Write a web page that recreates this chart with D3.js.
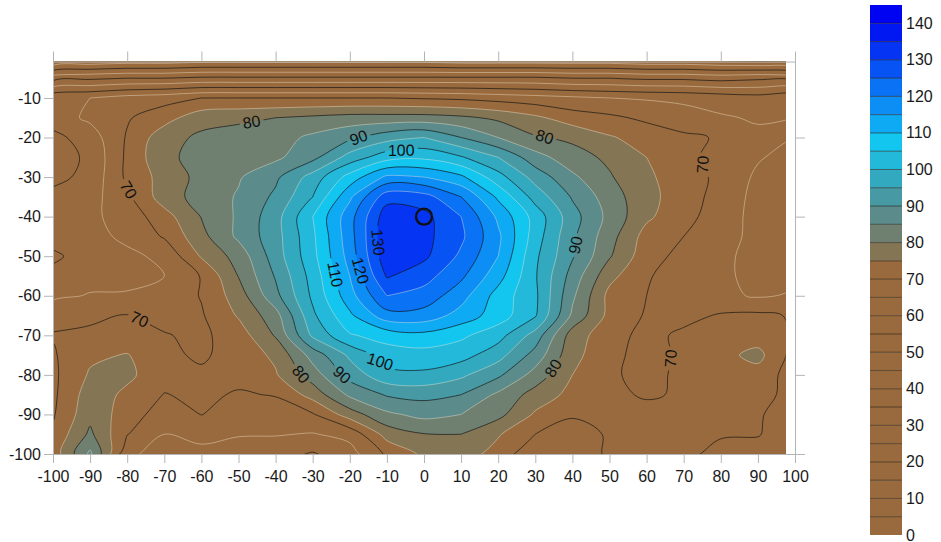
<!DOCTYPE html>
<html>
<head>
<meta charset="utf-8">
<script src="https://cdn.jsdelivr.net/npm/d3@7"></script>
<style>
  body { margin: 0; background: #fff; }
  svg { display: block; font-family: "Liberation Sans", Arial, sans-serif; }
</style>
</head>
<body>
<svg id="chart" width="941" height="542"></svg>
<script>
// grid nodes (x every 10, y every 5)
const gridX = [-100, -90, -80, -70, -60, -50, -40, -30, -20, -10, 0, 10, 20, 30, 40, 50, 60, 70, 80, 90, 100];
const gridY = [0, -5, -10, -15, -20, -25, -30, -35, -40, -45, -50, -55, -60, -65, -70, -75, -80, -85, -90, -95, -100];

// values, one column per gridX entry, top (y=0) to bottom (y=-100)
const zCols = [
  [28, 48, 64, 62.5, 58.5, 57.5, 58.5, 61.5, 63, 62, 59, 61.5, 64, 68.5, 70.3, 69.5, 69, 69, 69.5, 71, 72],          // -100
  [29, 49, 65, 66, 62.5, 61, 61.5, 63, 64, 63.5, 62.5, 63.5, 65.3, 69.5, 70.5, 74, 75.6, 77.5, 78.5, 81, 86],       // -90
  [30, 50, 67, 69.5, 70.5, 71, 71, 69, 67, 66, 64, 63.5, 65.5, 70.2, 71.5, 75.3, 76, 74, 72.5, 70.2, 66],           // -80
  [30, 50, 68, 73, 78, 79, 77, 77.5, 73, 70.5, 66, 65, 66.5, 68.5, 70.3, 71, 72, 69.8, 67.5, 65, 63],              // -70
  [31, 51, 70, 78, 81, 81.5, 81.5, 82, 80.2, 78.5, 75.5, 70.3, 70.3, 69.5, 69, 69.3, 70.8, 71, 70.1, 66, 64],       // -60
  [31, 51, 70, 79, 82, 82.5, 84.5, 85.5, 85.8, 86, 82, 80.2, 77.5, 75.5, 72.5, 72, 71.5, 69.5, 68, 65.3, 63],       // -50
  [31, 51, 70, 80, 83, 84, 89, 91, 93, 93, 92.5, 90.5, 88.5, 83, 80.5, 76, 74.5, 70.3, 67.5, 65.3, 62],            // -40
  [31, 51, 70, 81, 86, 88.5, 97, 100, 105, 104, 103.5, 102, 101, 99, 96, 87, 82.5, 77, 69.5, 64.7, 59.5],          // -30
  [31, 51, 70, 82, 89, 97, 107, 114, 118, 118, 117, 115, 113, 109, 104.5, 96, 92, 86, 77.5, 66.5, 63],             // -20
  [31, 51, 70, 82, 93, 103, 116, 128, 133, 134, 133.5, 130.5, 125, 118, 107, 102.5, 98.5, 90.5, 84, 77, 70.8],     // -10
  [31, 51, 69.5, 82, 95, 104, 115, 127, 131.5, 131.5, 131, 127, 123, 118, 108.5, 103, 99, 91.5, 86.5, 79.8, 76],   // 0
  [30, 51, 69, 81, 90, 100.5, 111, 120, 125, 126, 124, 121, 117, 113, 106, 102, 96, 90, 85, 80, 77.5],             // 10
  [30, 51, 68, 79, 85, 95, 102, 109, 114, 116, 115, 112, 108, 107.5, 102, 97, 91, 84, 81.5, 75.5, 73],             // 20
  [30, 51, 67, 76, 80.5, 87, 93, 98, 103, 102.5, 101, 100.5, 101, 100.5, 93, 88, 83, 78, 74.3, 70, 66],            // 30
  [30, 50, 66, 72.5, 79, 82, 86, 89.5, 92, 91, 90.5, 88, 86, 84, 77.5, 76.5, 75, 73.5, 70.5, 68, 66],              // 40
  [30, 50, 65, 71, 75.5, 79, 80.5, 82.5, 83.5, 82, 80.5, 76.5, 73.5, 73.5, 72, 71.5, 71, 71, 71.5, 70.5, 71],      // 50
  [29, 49, 64.5, 69, 73, 75, 76, 76.5, 76, 73, 72, 70.5, 70, 69.5, 68.5, 68, 68, 69.5, 71.5, 71, 70.8],            // 60
  [29, 49, 64, 67, 71, 71.5, 72, 72.5, 71.3, 70, 68.5, 67.5, 67.5, 68.5, 71, 71, 71.5, 70.5, 71, 71, 70.8],        // 70
  [28, 48, 63, 65.5, 69.5, 68, 69, 68, 68, 67, 66, 66, 66, 70.5, 72, 73.5, 73, 72, 70.5, 70.3, 69],                // 80
  [27, 49, 62, 64.5, 66, 65.5, 64, 63.5, 63, 63.5, 63.5, 63.5, 64.5, 71, 72.5, 76.5, 73, 72, 70.5, 70.3, 68],      // 90
  [25, 48, 64, 65, 65, 63, 63, 64, 64, 64, 64, 63.5, 65.5, 69.5, 69.5, 68, 67.5, 68, 67.5, 67, 67]                 // 100
];

const levels = [0, 5, 10, 15, 20, 25, 30, 35, 40, 45, 50, 55, 60, 65, 70, 75, 80, 85, 90, 95, 100, 105, 110, 115, 120, 125, 130, 135, 140];
const blueLevels = [75, 80, 85, 90, 95, 100, 105, 110, 115, 120, 125, 130, 135, 140];
const blueColors = ["#847655", "#6f7f70", "#5b8b8a", "#479aa4", "#33a9bf", "#22b9da", "#12c6ef", "#0eaaf4", "#0c8ef4", "#0a72f4", "#0853f4", "#0534f3", "#0218f2", "#0003f2"];
const brown = "#986a3d";

const xTicks = [-100, -90, -80, -70, -60, -50, -40, -30, -20, -10, 0, 10, 20, 30, 40, 50, 60, 70, 80, 90, 100];
const yTicks = [-10, -20, -30, -40, -50, -60, -70, -80, -90, -100];
const topTicks = [-100, -80, -60, -40, -20, 0, 20, 40, 60, 80, 100];
const rightTicks = [-20, -40, -60, -80, -100];
const barTicks = [0, 10, 20, 30, 40, 50, 60, 70, 80, 90, 100, 110, 120, 130, 140];

// contour labels: value and where it sits on the map
const labelV = [70, 80, 90, 100, 80, 70, 90, 130, 120, 110, 70, 80, 90, 100, 80, 70];
const labelX = [-79.8, -46.1, -17.8, -6.2, 32.6, 77.9, 41, -14, -18.6, -24.5, -76.5, -32.6, -22.6, -11.9, 34.8, 65.5];
const labelY = [-33.3, -18.1, -19.4, -22.4, -19.4, -25.7, -47.2, -46.6, -54, -54.7, -65.6, -79.5, -80.5, -76.7, -78.3, -75.7];

const markX = [0];
const markY = [-40];

const dataRight = 97.5, dataTop = -0.8;

const x = d3.scaleLinear().domain([-100, 100]).range([53, 795]);
const y = d3.scaleLinear().domain([-100, 0]).range([454, 58.4]);
const cb = d3.scaleLinear().domain([0, 145]).range([535, 5]);

const colorOf = v => v < 75 ? brown : blueColors[blueLevels.indexOf(v)];

const nx = gridX.length, ny = gridY.length;
const flat = new Array(nx * ny);
for (let j = 0; j < ny; j++) {
  for (let i = 0; i < nx; i++) flat[j * nx + i] = zCols[i][j];
}
const contours = d3.contours().size([nx, ny]).thresholds(levels)(flat);

// contour grid coords -> pixels (value i sits at i + 0.5)
const stepX = gridX[1] - gridX[0], stepY = gridY[1] - gridY[0];
const gx = c => x(gridX[0] + (c - 0.5) * stepX);
const gy = c => y(gridY[0] + (c - 0.5) * stepY);

const ringLine = d3.line().curve(d3.curveCatmullRomClosed.alpha(0.5));
function smoothPath(d) {
  return d.coordinates.map(poly =>
    poly.map(ring => ringLine(ring.slice(0, -1).map(p => [gx(p[0]), gy(p[1])])) || "").join("")
  ).join("");
}

const svg = d3.select("#chart");
const defs = svg.append("defs");
defs.append("clipPath").attr("id", "plotClip").append("rect")
  .attr("x", x(-100)).attr("y", y(dataTop))
  .attr("width", x(dataRight) - x(-100))
  .attr("height", y(-100) - y(dataTop));

// filled bands
svg.append("g").attr("clip-path", "url(#plotClip)")
  .selectAll("path")
  .data(contours)
  .join("path")
  .attr("d", smoothPath)
  .attr("fill", d => colorOf(d.value))
  .attr("fill-rule", "evenodd");

// place labels on the nearest contour segment
function snap(v, ax, ay) {
  const c = contours.find(d => d.value === v);
  const px = x(ax), py = y(ay);
  let best = { d: Infinity };
  c.coordinates.forEach(poly => poly.forEach(ring => {
    const pts = ring.map(p => [gx(p[0]), gy(p[1])]);
    const n = pts.length;
    for (let k = 0; k < n - 1; k++) {
      const [x0, y0] = pts[k], [x1, y1] = pts[k + 1];
      const dx = x1 - x0, dy = y1 - y0, L = dx * dx + dy * dy;
      let t = L ? ((px - x0) * dx + (py - y0) * dy) / L : 0;
      t = Math.max(0, Math.min(1, t));
      const qx = x0 + t * dx, qy = y0 + t * dy;
      const d = (qx - px) ** 2 + (qy - py) ** 2;
      if (d < best.d) {
        const a = pts[Math.max(0, k - 1)], b = pts[Math.min(n - 1, k + 2)];
        best = { d, qx, qy, ang: Math.atan2(b[1] - a[1], b[0] - a[0]) * 180 / Math.PI };
      }
    }
  }));
  let a = best.ang;
  if (a > 90) a -= 180;
  if (a < -90) a += 180;
  return { x: best.qx, y: best.qy, ang: a };
}

const labels = labelV.map((v, i) => Object.assign({ v }, snap(v, labelX[i], labelY[i])));

const mask = defs.append("mask").attr("id", "lblMask")
  .attr("maskUnits", "userSpaceOnUse")
  .attr("x", 0).attr("y", 0).attr("width", 941).attr("height", 542);
mask.append("rect").attr("width", 941).attr("height", 542).attr("fill", "white");
labels.forEach(l => {
  const w = String(l.v).length * 9 + 6;
  mask.append("rect")
    .attr("x", -w / 2).attr("y", -7).attr("width", w).attr("height", 14)
    .attr("fill", "black")
    .attr("transform", `translate(${l.x},${l.y}) rotate(${l.ang})`);
});

// contour lines: dark on tens, light on fives
svg.append("g").attr("mask", "url(#lblMask)")
  .append("g").attr("clip-path", "url(#plotClip)")
  .selectAll("path")
  .data(contours.filter(d => d.value > 0))
  .join("path")
  .attr("d", smoothPath)
  .attr("fill", "none")
  .attr("stroke", d => d.value % 10 === 0 ? "rgba(20,20,20,0.75)" : "rgba(255,240,215,0.45)")
  .attr("stroke-width", 0.9);

svg.append("g")
  .selectAll("text")
  .data(labels)
  .join("text")
  .attr("transform", d => `translate(${d.x},${d.y}) rotate(${d.ang})`)
  .attr("text-anchor", "middle")
  .attr("dominant-baseline", "central")
  .attr("font-size", 16)
  .attr("fill", "#111")
  .text(d => d.v);

// marker
svg.append("g")
  .selectAll("circle")
  .data(markX.map((v, i) => [v, markY[i]]))
  .join("circle")
  .attr("cx", d => x(d[0]))
  .attr("cy", d => y(d[1]))
  .attr("r", 8)
  .attr("fill", "none")
  .attr("stroke", "#111")
  .attr("stroke-width", 2.4);

// axes
const plain = d => String(d);
function styleAxis(g) {
  g.selectAll(".domain, .tick line").attr("stroke", "#b4b4b4");
  g.selectAll("text").attr("fill", "#1a1a1a").attr("font-size", 16)
    .attr("font-family", "Liberation Sans, Arial, sans-serif");
}

svg.append("g")
  .attr("transform", `translate(0,${y(-100)})`)
  .call(d3.axisBottom(x).tickValues(xTicks).tickFormat(plain).tickSize(9).tickSizeOuter(0).tickPadding(8))
  .call(styleAxis);

svg.append("g")
  .attr("transform", `translate(${x(-100)},0)`)
  .call(d3.axisLeft(y).tickValues(yTicks).tickFormat(plain).tickSize(9).tickSizeOuter(0).tickPadding(3))
  .call(styleAxis);

svg.append("g")
  .attr("transform", `translate(0,${y(dataTop)})`)
  .call(d3.axisTop(x).tickValues(topTicks).tickSize(10).tickSizeOuter(0).tickFormat(""))
  .call(styleAxis);

svg.append("g")
  .attr("transform", `translate(${x(100)},0)`)
  .call(d3.axisRight(y).tickValues(rightTicks).tickSize(10).tickSizeOuter(0).tickFormat(""))
  .call(styleAxis);

// colour bar
const bar = svg.append("g");
bar.selectAll("rect")
  .data(levels)
  .join("rect")
  .attr("x", 870)
  .attr("width", 32)
  .attr("y", d => cb(d + 5))
  .attr("height", d => cb(d) - cb(d + 5))
  .attr("fill", d => colorOf(d));
bar.selectAll("line")
  .data(levels.slice(1))
  .join("line")
  .attr("x1", 870).attr("x2", 902)
  .attr("y1", d => cb(d)).attr("y2", d => cb(d))
  .attr("stroke", "rgba(30,20,10,0.55)")
  .attr("stroke-width", 1);
bar.selectAll("text")
  .data(barTicks)
  .join("text")
  .attr("x", 906)
  .attr("y", d => cb(d))
  .attr("dominant-baseline", "central")
  .attr("font-size", 16)
  .attr("fill", "#1a1a1a")
  .text(d => d);
</script>
</body>
</html>
